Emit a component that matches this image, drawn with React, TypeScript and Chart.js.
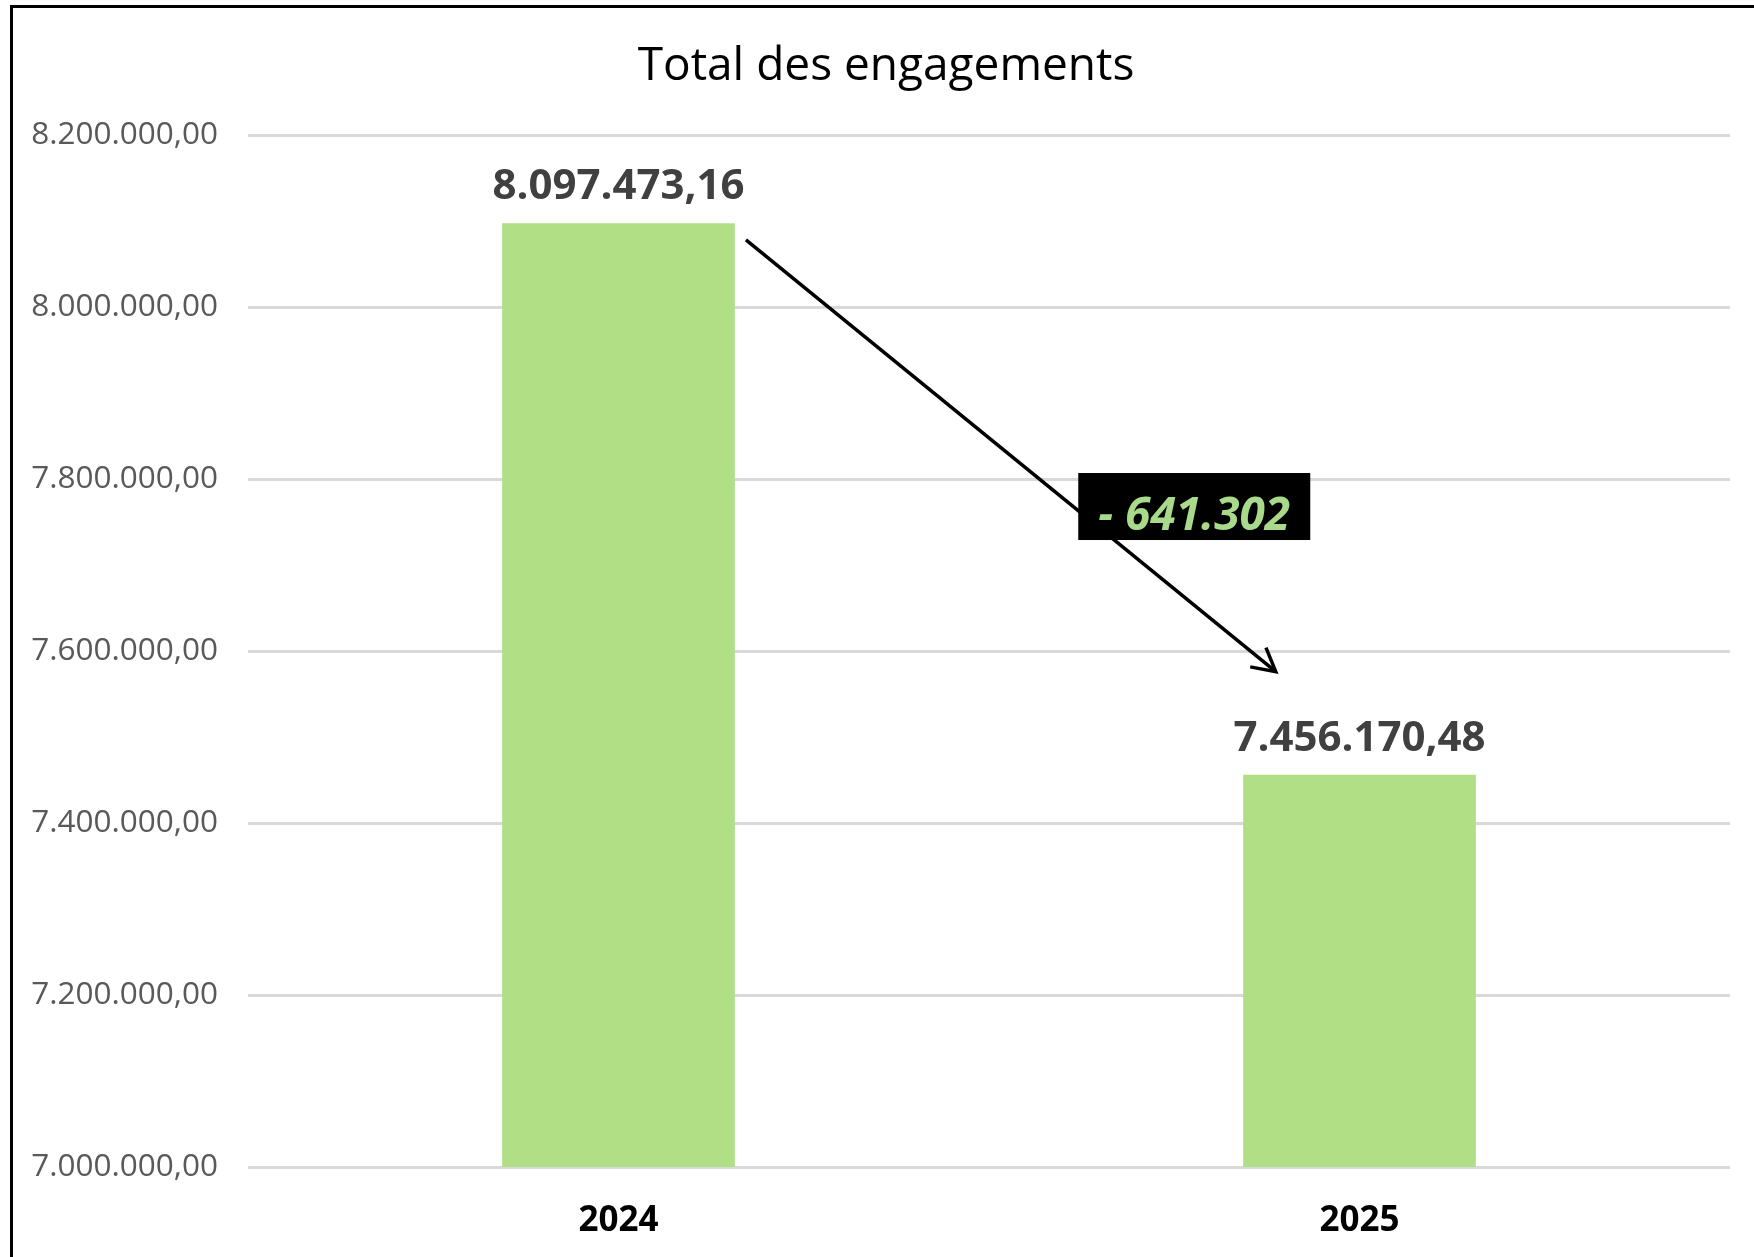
import React, { useEffect, useRef } from "react";
import { Chart, registerables } from "chart.js";

Chart.register(...registerables);

const TITLE = "Total des engagements";
const categories = ["2024", "2025"];
const values = [8097473.16, 7456170.48];
const yMin = 7000000;
const yMax = 8200000;
const yStep = 200000;
const diffLabel = "- 641.302";
// arrow endpoints in data units (category index, value)
const arrowStart = [0.172, 8078000];
const arrowEnd = [0.887, 7576000];
const boxCenter = [0.777, 7768000];

const W = 1754;
const H = 1257;
const FONT = "'Open Sans', 'Noto Sans', sans-serif";

const fmt2 = new Intl.NumberFormat("de-DE", { minimumFractionDigits: 2, maximumFractionDigits: 2 });

const overlayPlugin = {
  id: "overlay",
  afterDatasetsDraw(chart: any) {
    const ctx = chart.ctx;
    const xs = chart.scales.x;
    const ys = chart.scales.y;
    // title
    ctx.save();
    ctx.fillStyle = "#000000";
    ctx.font = `46px ${FONT}`;
    ctx.textAlign = "center";
    ctx.textBaseline = "middle";
    ctx.fillText(TITLE, 886, 67);

    // data labels
    const meta = chart.getDatasetMeta(0);
    ctx.font = `bold 42px ${FONT}`;
    ctx.fillStyle = "#404040";
    meta.data.forEach((bar: any, i: number) => {
      ctx.fillText(fmt2.format(values[i]), bar.x, bar.y - 36);
    });

    // arrow
    const x1 = xs.getPixelForValue(arrowStart[0]);
    const y1 = ys.getPixelForValue(arrowStart[1]);
    const x2 = xs.getPixelForValue(arrowEnd[0]);
    const y2 = ys.getPixelForValue(arrowEnd[1]);
    ctx.strokeStyle = "#000000";
    ctx.lineWidth = 3.5;
    ctx.beginPath();
    ctx.moveTo(x1, y1);
    ctx.lineTo(x2, y2);
    ctx.stroke();
    const ang = Math.atan2(y2 - y1, x2 - x1);
    const hl = 26;
    ctx.beginPath();
    ctx.moveTo(x2 - hl * Math.cos(ang - 0.5), y2 - hl * Math.sin(ang - 0.5));
    ctx.lineTo(x2, y2);
    ctx.lineTo(x2 - hl * Math.cos(ang + 0.5), y2 - hl * Math.sin(ang + 0.5));
    ctx.stroke();

    // difference box
    const bx = xs.getPixelForValue(boxCenter[0]);
    const by = ys.getPixelForValue(boxCenter[1]);
    const bw = 232;
    const bh = 67;
    ctx.fillStyle = "#000000";
    ctx.fillRect(bx - bw / 2, by - bh / 2, bw, bh);
    ctx.fillStyle = "#a9d98a";
    ctx.font = `italic bold 46px ${FONT}`;
    ctx.fillText(diffLabel, bx, by + 10);
    ctx.restore();
  },
};

export default function App() {
  const ref = useRef<HTMLCanvasElement>(null);
  useEffect(() => {
    document.body.style.margin = "0";
    const chart = new Chart(ref.current!, {
      type: "bar",
      data: {
        labels: categories,
        datasets: [
          {
            data: values,
            backgroundColor: "#b0df86",
            borderWidth: 0,
            barPercentage: 0.314,
            categoryPercentage: 1,
          },
        ],
      },
      options: {
        responsive: false,
        animation: false,
        devicePixelRatio: 1,
        layout: { padding: { top: 135, right: 24, left: 0, bottom: 0 } },
        plugins: { legend: { display: false }, tooltip: { enabled: false }, title: { display: false } },
        scales: {
          x: {
            grid: { display: false, drawTicks: false },
            border: { display: false },
            ticks: { color: "#000000", font: { family: FONT, size: 35, weight: "bold" }, padding: 33 },
            afterFit(scale: any) {
              scale.height = 90;
            },
          },
          y: {
            min: yMin,
            max: yMax,
            grid: { color: "#d9d9d9", lineWidth: 3, drawTicks: false },
            border: { display: false },
            ticks: {
              stepSize: yStep,
              color: "#595959",
              padding: 30,
              font: { family: FONT, size: 31.5 },
              callback: (v: any) => fmt2.format(Number(v)),
            },
            afterFit(scale: any) {
              scale.width = 248;
            },
          },
        },
      },
      plugins: [overlayPlugin],
    });
    return () => chart.destroy();
  }, []);
  return (
    <div style={{ position: "relative", width: W, height: H, background: "#ffffff", overflow: "hidden" }}>
      <canvas ref={ref} width={W} height={H} style={{ display: "block" }} />
      <div
        style={{
          position: "absolute",
          left: 10,
          top: 5,
          width: W,
          height: H,
          borderLeft: "3px solid #000",
          borderTop: "3px solid #000",
          pointerEvents: "none",
        }}
      />
    </div>
  );
}
